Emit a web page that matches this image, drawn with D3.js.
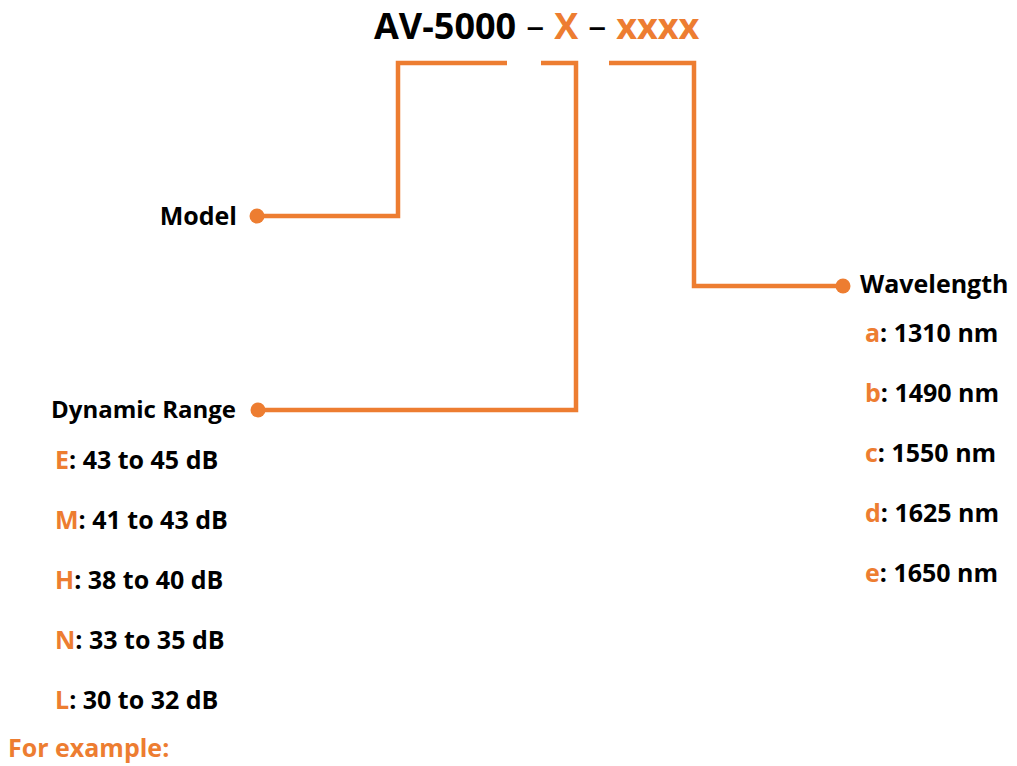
<!DOCTYPE html>
<html>
<head>
<meta charset="utf-8">
<script src="https://cdn.jsdelivr.net/npm/d3@7"></script>
<style>
  body { margin: 0; background: #fff; }
  svg text { font-family: "Open Sans", "Noto Sans", sans-serif; font-weight: 700; }
</style>
</head>
<body>
<div id="chart"></div>
<script>
// --- data ---
const titleParts = ["AV-5000", "–", "X", "–", "xxxx"];
const rangeCodes = ["E", "M", "H", "N", "L"];
const rangeValues = ["43 to 45 dB", "41 to 43 dB", "38 to 40 dB", "33 to 35 dB", "30 to 32 dB"];
const waveCodes = ["a", "b", "c", "d", "e"];
const waveValues = ["1310 nm", "1490 nm", "1550 nm", "1625 nm", "1650 nm"];
const groupLabels = ["Model", "Dynamic Range", "Wavelength"];
const footer = "For example:";

const orange = "#ED7D31";
const width = 1017, height = 766;

const svg = d3.select("#chart").append("svg")
    .attr("width", width).attr("height", height);

// title, laid out piece by piece
const titleG = svg.append("g");
const gap = 10;
let tx = 374;
titleParts.forEach((p, i) => {
    const t = titleG.append("text")
        .attr("x", tx).attr("y", 39)
        .style("font-size", "36px")
        .style("font-weight", i % 2 === 1 ? 400 : 700)
        .attr("fill", i >= 2 && i % 2 === 0 ? orange : "#000")
        .text(p);
    tx += t.node().getComputedTextLength() + gap;
});

// connectors
const lineG = svg.append("g")
    .attr("fill", "none").attr("stroke", orange)
    .attr("stroke-width", 4.5).attr("stroke-linejoin", "miter");

const connectors = [
    { pts: [[507, 63], [398, 63], [398, 216], [257, 216]] },
    { pts: [[541, 63], [576, 63], [576, 410], [258, 410]] },
    { pts: [[609, 63], [694, 63], [694, 286], [843, 286]] }
];
const line = d3.line();
lineG.selectAll("path").data(connectors).join("path")
    .attr("d", d => line(d.pts));
svg.selectAll("circle.dot").data(connectors).join("circle")
    .attr("class", "dot")
    .attr("cx", d => d.pts[3][0]).attr("cy", d => d.pts[3][1])
    .attr("r", 7.5).attr("fill", orange);

// group labels
svg.append("text").attr("x", 237).attr("y", 225).attr("text-anchor", "end")
    .style("font-size", "25px").text(groupLabels[0]);
svg.append("text").attr("x", 236).attr("y", 418).attr("text-anchor", "end")
    .style("font-size", "24px").text(groupLabels[1]);
svg.append("text").attr("x", 860).attr("y", 293)
    .style("font-size", "25px").text(groupLabels[2]);

// item lists
const yRange = d3.scalePoint().domain(rangeCodes).range([469, 709]);
const yWave = d3.scalePoint().domain(waveCodes).range([342, 582]);

function list(codes, values, x, y) {
    svg.append("g").selectAll("text").data(codes).join("text")
        .attr("x", x).attr("y", d => y(d))
        .style("font-size", "25px")
        .each(function(d, i) {
            const t = d3.select(this);
            t.append("tspan").attr("fill", orange).text(d);
            t.append("tspan").attr("fill", "#000").text(": " + values[i]);
        });
}
list(rangeCodes, rangeValues, 55, yRange);
list(waveCodes, waveValues, 865, yWave);

// footer
svg.append("text").attr("x", 8).attr("y", 757)
    .attr("fill", orange).style("font-size", "25px").text(footer);
</script>
</body>
</html>
